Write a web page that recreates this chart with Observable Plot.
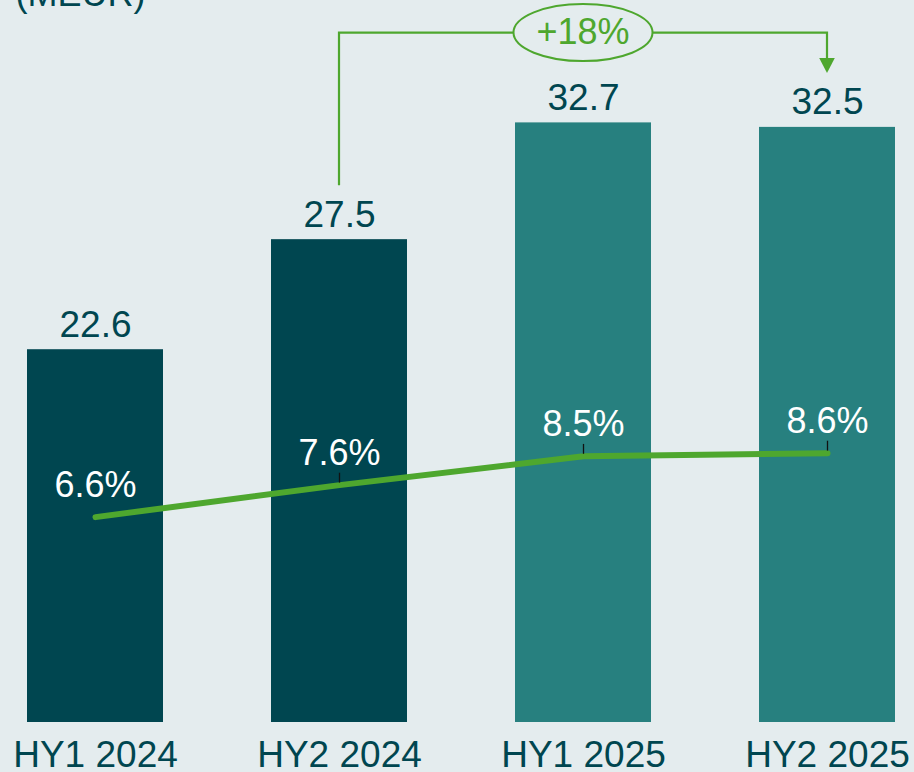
<!DOCTYPE html>
<html><head><meta charset="utf-8">
<script src="https://cdn.jsdelivr.net/npm/d3@7"></script>
<script src="https://cdn.jsdelivr.net/npm/@observablehq/plot@0.6"></script>
<style>
html,body{margin:0;padding:0;background:#e4ecee;}
#chart{width:914px;height:772px;overflow:hidden;}
</style></head><body><div id="chart"></div>
<script>
// ---- data ----
const periods = ["HY1 2024", "HY2 2024", "HY1 2025", "HY2 2025"];
const years = ["2024", "2024", "2025", "2025"];
const values = [22.6, 27.5, 32.7, 32.5];          // MEUR
const margins = [6.6, 7.6, 8.5, 8.6];             // %
const growthLabel = "+18%";
const growthFrom = "HY2 2024";
const growthTo = "HY2 2025";
const growthOver = "HY1 2025";
const unitLabel = "(MEUR)";

const data = periods.map((p, i) => ({period: p, year: years[i], value: values[i], margin: margins[i]}));

// ---- style ----
const dark = "#004650", teal = "#27807f", green = "#4ea72e", bg = "#e4ecee";
const font = "'Liberation Sans', Arial, Helvetica, sans-serif";
const yBase = 6;
// secondary (percent) axis mapped into the primary y units
const pctToY = d3.scaleLinear().domain([0, 10]).range([5.74, 19.99]);

const annotation = (index, scales) => {
  const x = scales.x, y = scales.y, bw = x.bandwidth ? x.bandwidth() : 0;
  const cx = p => x(p) + bw / 2;
  const from = data.find(d => d.period === growthFrom);
  const to = data.find(d => d.period === growthTo);
  const x1 = cx(growthFrom), x2 = cx(growthTo), xm = cx(growthOver);
  const yStart = y(from.value + 2.4), yTop = y(36.7), yTip = y(to.value + 2.4);
  const g = d3.create("svg:g");
  g.append("path")
    .attr("d", `M${x1},${yStart}V${yTop}H${x2}V${yTip - 14}`)
    .attr("fill", "none").attr("stroke", green).attr("stroke-width", 2.2);
  g.append("polygon")
    .attr("points", `${x2 - 7.8},${yTip - 15} ${x2 + 7.8},${yTip - 15} ${x2},${yTip}`)
    .attr("fill", green);
  g.append("ellipse")
    .attr("cx", xm).attr("cy", yTop).attr("rx", bw / 2 + 1.5).attr("ry", 28.5)
    .attr("fill", bg).attr("stroke", green).attr("stroke-width", 2);
  g.append("text")
    .attr("x", xm).attr("y", yTop + 11).attr("text-anchor", "middle")
    .attr("font-size", 36).attr("fill", green).attr("font-family", font)
    .text(growthLabel);
  return g.node();
};

const chart = Plot.plot({
  width: 914,
  height: 772,
  marginTop: 0,
  marginLeft: 0,
  marginRight: 0,
  marginBottom: 50,
  style: {background: bg, fontFamily: font, overflow: "visible"},
  x: {domain: periods, range: [0, 921.4], paddingInner: 0.4438, paddingOuter: 0.1063, label: null},
  y: {domain: [yBase, 38.15], axis: null},
  color: {domain: ["2024", "2025"], range: [dark, teal]},
  marks: [
    Plot.barY(data, {x: "period", y1: yBase, y2: "value", fill: "year"}),
    Plot.line(data, {x: "period", y: d => pctToY(d.margin), stroke: green, strokeWidth: 6,
      strokeLinecap: "round", strokeLinejoin: "round"}),
    Plot.ruleX(data.slice(1), {x: "period", y1: d => pctToY(d.margin) + 0.09,
      y2: d => pctToY(d.margin) + 0.53, stroke: "#111", strokeWidth: 1.3}),
    Plot.text(data, {x: "period", y: d => pctToY(d.margin), text: d => d.margin.toFixed(1) + "%",
      lineAnchor: "bottom", dy: -20, fontSize: 36, fill: "white"}),
    Plot.text(data, {x: "period", y: "value", text: d => d.value.toFixed(1),
      lineAnchor: "bottom", dy: -13, fontSize: 37, fill: dark}),
    Plot.axisX({tickSize: 0, tickPadding: 18, fontSize: 37, color: dark, label: null}),
    annotation,
    Plot.text([unitLabel], {frameAnchor: "top-left", text: d => d, textAnchor: "end",
      lineAnchor: "bottom", dx: 145, dy: 5, fontSize: 36, fill: dark})
  ]
});
document.getElementById("chart").appendChild(chart);
</script></body></html>
